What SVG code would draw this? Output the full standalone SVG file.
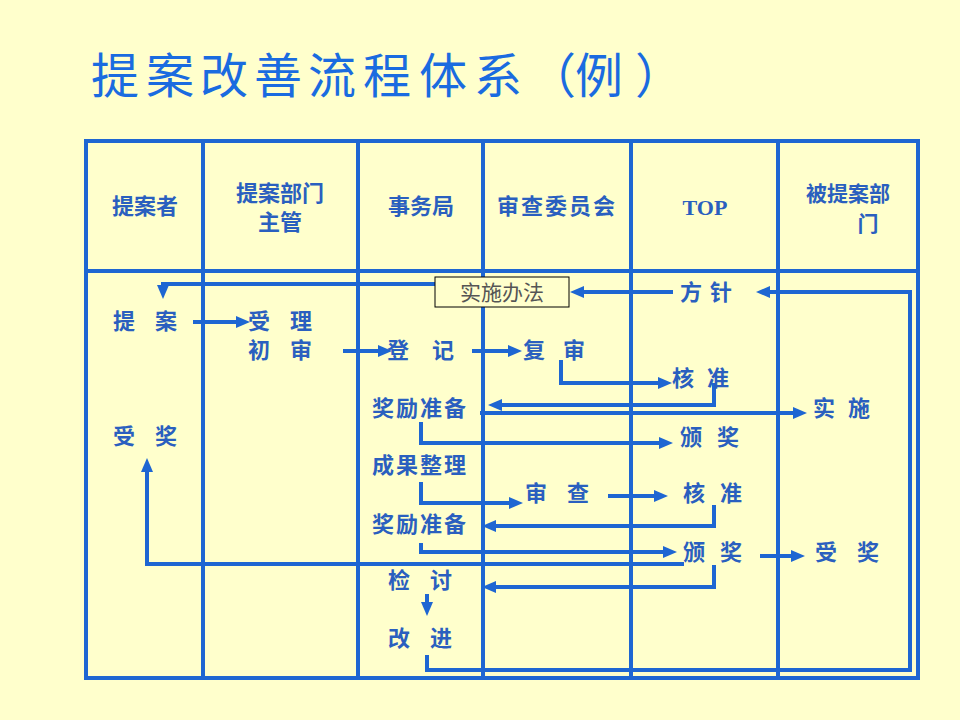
<svg xmlns="http://www.w3.org/2000/svg" width="960" height="720" viewBox="0 0 960 720">
<style>
.t{font-family:"Noto Sans CJK SC","Noto Sans",sans-serif;font-size:22px;font-weight:bold;fill:#2a5fbf}
.h{font-family:"Noto Sans CJK SC","Noto Sans",sans-serif;font-size:22px;font-weight:bold;fill:#2a5fbf;text-anchor:middle}
.grid{stroke:#1e66d2;stroke-width:4;fill:none}
.c{stroke:#1e66d2;stroke-width:4;fill:none;marker-end:url(#ah)}
</style>
<defs>
<marker id="ah" markerUnits="userSpaceOnUse" markerWidth="14" markerHeight="12" refX="4" refY="6" orient="auto">
<path d="M0,0 L14,6 L0,12 z" fill="#1e66d2"/>
</marker>
</defs>
<rect width="960" height="720" fill="#ffffcc"/>
<text x="91 146 200 254 308 363 419 474 528 575 635" y="93" style="font-family:'Noto Sans CJK SC',sans-serif;font-size:48px;fill:#1a6be0">提案改善流程体系（例）</text>
<g id="table" class="grid">
<rect x="86" y="141" width="832" height="537"/>
<line x1="86" y1="271" x2="918" y2="271"/>
<line x1="203" y1="141" x2="203" y2="678"/>
<line x1="358" y1="141" x2="358" y2="678"/>
<line x1="483" y1="141" x2="483" y2="678"/>
<line x1="631" y1="141" x2="631" y2="678"/>
<line x1="778" y1="141" x2="778" y2="678"/>
</g>
<g id="headers">
<text class="h" x="145" y="214">提案者</text>
<text class="h"><tspan x="280" y="201">提案部门</tspan><tspan x="280" y="230">主管</tspan></text>
<text class="h" x="421" y="214">事务局</text>
<text class="h" x="557" y="214" letter-spacing="2">审查委员会</text>
<text x="705" y="215" style="font-family:'Liberation Serif',serif;font-size:22px;font-weight:bold;fill:#2a5fbf;text-anchor:middle">TOP</text>
<text class="h" style="font-size:21px"><tspan x="848" y="201">被提案部</tspan><tspan x="868" y="231">门</tspan></text>
</g>
<g id="connectors">
<path class="c" d="M435,284 H163 V289"/>
<path class="c" d="M193,322 H240"/>
<path class="c" d="M343,351 H382"/>
<path class="c" d="M472,351 H512"/>
<path class="c" d="M561,360 V383 H662"/>
<path class="c" d="M714,383 V405 H498"/>
<path class="c" d="M480,413 H797"/>
<path class="c" d="M421,422 V443 H663"/>
<path class="c" d="M421,482 V503 H513"/>
<path class="c" d="M608,496 H658"/>
<path class="c" d="M714,505 V526 H492"/>
<path class="c" d="M421,543 V552 H667"/>
<path class="c" d="M684,564 H147 V468"/>
<path class="c" d="M714,565 V587 H492"/>
<path class="c" d="M427,594 V606"/>
<path class="c" d="M760,556 H795"/>
<path class="c" d="M427,655 V670 H910 V292 H766"/>
<path class="c" d="M673,292 H580"/>
</g>
<g id="n-tian"><text class="t" x="113 155" y="329">提案</text></g>
<g id="n-shouli"><text class="t"><tspan x="248 290" y="329">受理</tspan><tspan x="248 290" y="358">初审</tspan></text></g>
<g id="n-dengji"><text class="t" x="387 432" y="358">登记</text></g>
<g id="n-jiangli1"><text class="t" x="372" y="416" letter-spacing="2">奖励准备</text></g>
<g id="n-shoujiang1"><text class="t" x="113 155" y="444">受奖</text></g>
<g id="n-chengguo"><text class="t" x="372" y="473" letter-spacing="2">成果整理</text></g>
<g id="n-jiangli2"><text class="t" x="372" y="532" letter-spacing="2">奖励准备</text></g>
<g id="n-jiantao"><text class="t" x="388 430" y="588">检讨</text></g>
<g id="n-gaijin"><text class="t" x="388 430" y="646">改进</text></g>
<g id="n-shishibanfa"><rect x="435" y="277" width="134" height="30" fill="#ffffcc" stroke="#000" stroke-width="1"/><text x="502" y="300" style="font-family:'Noto Sans CJK SC',sans-serif;font-size:21px;fill:#555;text-anchor:middle">实施办法</text></g>
<g id="n-fangzhen"><text class="t" x="680 710" y="300">方针</text></g>
<g id="n-fushen"><text class="t" x="523 563" y="358">复审</text></g>
<g id="n-hezhun1"><text class="t" x="672 707" y="386">核准</text></g>
<g id="n-shishi"><text class="t" x="813 848" y="416">实施</text></g>
<g id="n-banjiang1"><text class="t" x="680 717" y="445">颁奖</text></g>
<g id="n-shencha"><text class="t" x="525 567" y="501">审查</text></g>
<g id="n-hezhun2"><text class="t" x="683 720" y="501">核准</text></g>
<g id="n-banjiang2"><text class="t" x="683 720" y="560">颁奖</text></g>
<g id="n-shoujiang2"><text class="t" x="815 857" y="560">受奖</text></g>
</svg>
